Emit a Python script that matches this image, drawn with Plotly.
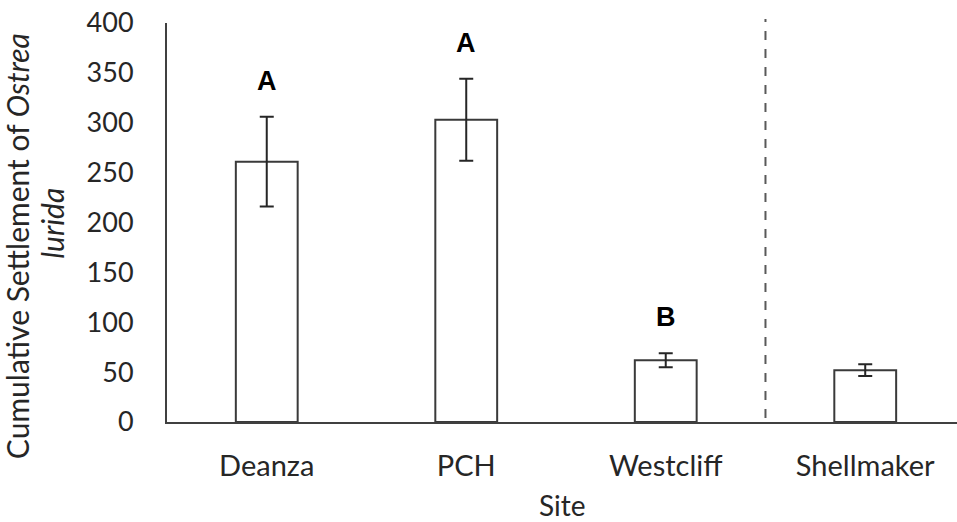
import plotly.graph_objects as go

sites = ["Deanza", "PCH", "Westcliff", "Shellmaker"]
settlement = [261, 303, 62, 52]
errors = [45, 41, 7, 6]
letters = ["A", "A", "B", ""]
y_ticks = [0, 50, 100, 150, 200, 250, 300, 350, 400]

FONT = "Lato, Open Sans, sans-serif"

fig = go.Figure()
fig.add_trace(go.Bar(
    x=sites, y=settlement,
    width=0.31,
    marker=dict(color="white", line=dict(color="#3a3a3a", width=2)),
    error_y=dict(type="data", array=errors, visible=True, color="#262626",
                 thickness=2, width=7),
    showlegend=False,
))

for s, v, e, lab in zip(sites, settlement, errors, letters):
    if lab:
        fig.add_annotation(x=s, y=v + e + 36, text="<b>%s</b>" % lab, showarrow=False,
                           font=dict(family="Liberation Sans, Arial", size=27, color="black"),
                           xref="x", yref="y", yanchor="middle")

fig.add_shape(type="line", xref="x", yref="paper", x0=2.5, x1=2.5, y0=0.01, y1=1.01,
              line=dict(color="#595959", width=2, dash="dash"))

# y-axis title, two centred lines (Excel-style)
fig.add_annotation(text="Cumulative Settlement of <i>Ostrea</i>", textangle=-90,
                   xref="paper", yref="paper", x=-0.189, y=0.44,
                   xanchor="center", yanchor="middle", showarrow=False,
                   font=dict(family=FONT, size=30, color="#262626"))
fig.add_annotation(text="<i>lurida</i>", textangle=-90,
                   xref="paper", yref="paper", x=-0.145, y=0.498,
                   xanchor="center", yanchor="middle", showarrow=False,
                   font=dict(family=FONT, size=30, color="#262626"))
# x-axis title
fig.add_annotation(text="Site", xref="paper", yref="paper", x=0.5, y=-0.207,
                   xanchor="center", yanchor="middle", showarrow=False,
                   font=dict(family=FONT, size=28, color="#262626"))

fig.update_layout(
    width=957, height=522,
    margin=dict(l=167, r=0, t=23, b=100),
    paper_bgcolor="white", plot_bgcolor="white",
    font=dict(family=FONT, size=28, color="#262626"),
)
fig.update_xaxes(
    range=[-0.5, 3.46], showline=True, linecolor="#404040", linewidth=2,
    showgrid=False, ticks="", tickfont=dict(size=29), ticklabelstandoff=17,
    automargin=False,
)
fig.update_yaxes(
    range=[0, 400], tickvals=y_ticks, showline=True, linecolor="#404040", linewidth=2,
    showgrid=False, zeroline=False, ticks="", ticklabelstandoff=26,
    tickfont=dict(size=27), ticklabeloverflow="allow", automargin=False,
)

fig.write_html("out.html", config={"displayModeBar": False},
               post_script="document.body.style.margin='0';")
